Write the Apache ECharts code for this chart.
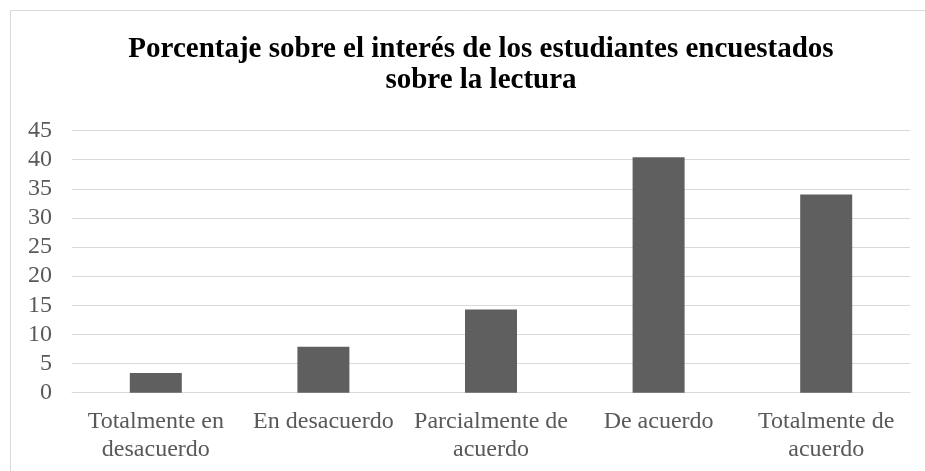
<!DOCTYPE html>
<html>
<head>
<meta charset="utf-8">
<script src="https://cdn.jsdelivr.net/npm/echarts@6/dist/echarts.min.js"></script>
<style>
    html, body { margin: 0; padding: 0; background: #fff; }
    #chart { width: 925px; height: 471px; }
</style>
</head>
<body>
<div id="chart"></div>
<script>
const categories = [
    'Totalmente en\ndesacuerdo',
    'En desacuerdo',
    'Parcialmente de\nacuerdo',
    'De acuerdo',
    'Totalmente de\nacuerdo',
]
const percentages = [3.4, 7.9, 14.3, 40.4, 34.0]
const titleText = 'Porcentaje sobre el interés de los estudiantes encuestados\nsobre la lectura'

const textGray = '#595959'
const serif = '"Liberation Serif", "Times New Roman", serif'

let myChart = echarts.init(document.getElementById('chart'))
let option = {
    animation: false,
    backgroundColor: '#fff',
    title: {
        text: titleText,
        left: 476,
        top: 29,
        textAlign: 'center',
        textStyle: {
            fontFamily: serif,
            fontWeight: 'bold',
            fontSize: 29,
            lineHeight: 31,
            color: '#000',
        },
    },
    // chart frame, only top and left edges show in the crop
    graphic: [
        {
            type: 'rect',
            shape: { x: 10.5, y: 10.5, width: 1000, height: 1000 },
            style: { fill: 'none', stroke: '#d9d9d9', lineWidth: 1 },
            silent: true,
        },
    ],
    grid: {
        left: 72,
        right: 15,
        top: 130.5,
        bottom: 78.3,
    },
    xAxis: {
        type: 'category',
        data: categories,
        axisTick: { show: false },
        axisLine: { lineStyle: { color: '#d9d9d9', width: 1 } },
        axisLabel: {
            interval: 0,
            margin: 15,
            fontFamily: serif,
            fontSize: 24,
            lineHeight: 28,
            color: textGray,
        },
    },
    yAxis: {
        type: 'value',
        min: 0,
        max: 45,
        interval: 5,
        axisLine: { show: false },
        axisTick: { show: false },
        splitLine: { lineStyle: { color: '#d9d9d9', width: 1 } },
        axisLabel: {
            margin: 20,
            fontFamily: serif,
            fontSize: 24,
            color: textGray,
        },
    },
    series: [
        {
            type: 'bar',
            data: percentages,
            barWidth: 52,
            itemStyle: { color: '#5f5f5f' },
        },
    ],
}
myChart.setOption(option, true)
</script>
</body>
</html>
